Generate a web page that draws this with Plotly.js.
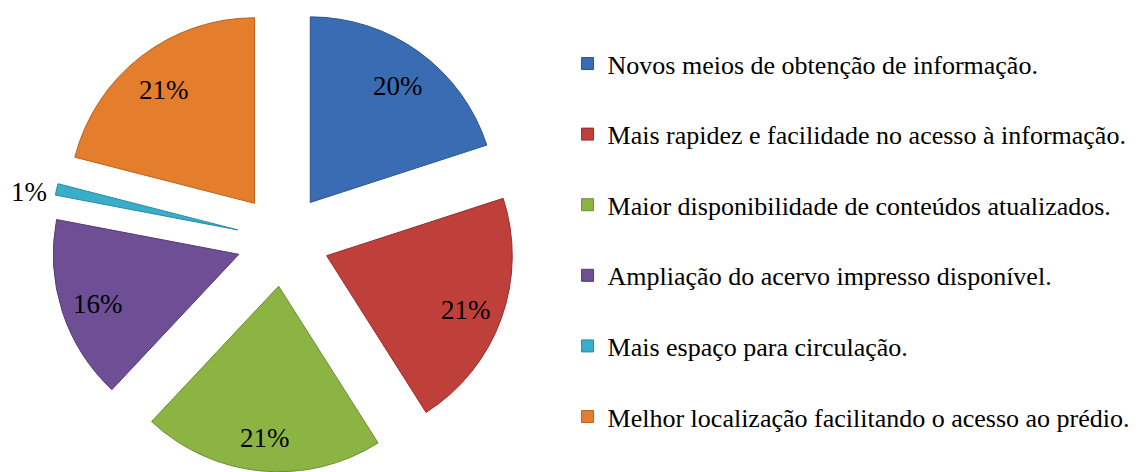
<!DOCTYPE html>
<html>
<head>
<meta charset="utf-8">
<script src="https://cdn.plot.ly/plotly-3.0.1.min.js"></script>
<style>
  html, body { margin: 0; padding: 0; background: #ffffff; }
  #chart svg text { font-family: "Liberation Serif", "Times New Roman", serif !important; }
  #chart .modebar-container { display: none !important; }
</style>
</head>
<body>
<div id="chart" style="width:1142px;height:472px"></div>
<script>
// Data
const categories = [
  "Novos meios de obtenção de informação.",
  "Mais rapidez e facilidade no acesso à informação.",
  "Maior disponibilidade de conteúdos atualizados.",
  "Ampliação do acervo impresso disponível.",
  "Mais espaço para circulação.",
  "Melhor localização facilitando o acesso ao prédio."
];
const values = [20, 21, 21, 16, 1, 21];

// Styles
const sliceColors = ["#3a6cb3", "#bf3f3b", "#8cb443", "#6e4f95", "#38aecb", "#e47d2c"];
const edgeColors  = ["#2c5590", "#952e2b", "#6d8d32", "#553c75", "#2a8aa3", "#b8621f"];
const PULL = 0.25;
const W = 1142, H = 472;
const DOM_X = [0.04466, 0.45096], DOM_Y = [0.0, 0.98305];

// legend labels with an extra blank line to reproduce the wide row spacing
const legendLabels = categories.map(c => c + "<br>\u00a0");

const trace = {
  type: "pie",
  labels: legendLabels,
  values: values,
  customdata: categories,
  sort: false,
  direction: "clockwise",
  rotation: 0,
  pull: values.map(() => PULL),
  textinfo: "none",
  marker: { colors: sliceColors, line: { color: edgeColors, width: 1 } },
  hovertemplate: "%{customdata}<br>%{percent}<extra></extra>",
  domain: { x: DOM_X, y: DOM_Y },
  showlegend: true
};

// percentage labels placed along each slice's middle angle (derived from the values)
const total = values.reduce((a, b) => a + b, 0);
const domWpx = (DOM_X[1] - DOM_X[0]) * W, domHpx = (DOM_Y[1] - DOM_Y[0]) * H;
const rPx = Math.min(domWpx, domHpx) / 2 / (1 + PULL);
const cx = (DOM_X[0] + DOM_X[1]) / 2, cy = (DOM_Y[0] + DOM_Y[1]) / 2;
const annotations = [];
let cum = 0;
values.forEach((v, i) => {
  const share = v / total;
  const mid = (cum + share / 2) * 2 * Math.PI;
  cum += share;
  const sx = Math.sin(mid), sy = Math.cos(mid);
  const small = share < 0.03;
  const dist = PULL * rPx + (small ? rPx + 8 : 0.80 * rPx);
  annotations.push({
    xref: "paper", yref: "paper",
    x: cx + sx * dist / W,
    y: cy + sy * dist / H,
    text: Math.round(share * 100) + "%",
    showarrow: false,
    xanchor: small ? "right" : "center",
    yanchor: "middle",
    yshift: -4,
    font: { family: "Liberation Serif", size: 27, color: "#000000" }
  });
});

const layout = {
  width: W,
  height: H,
  margin: { l: 0, r: 0, t: 0, b: 0, autoexpand: false },
  paper_bgcolor: "#ffffff",
  plot_bgcolor: "#ffffff",
  font: { family: "Liberation Serif", size: 26 },
  showlegend: true,
  annotations: annotations,
  legend: {
    x: 0.497,
    xanchor: "left",
    y: 0.915,
    yanchor: "top",
    valign: "top",
    orientation: "v",
    font: { family: "Liberation Serif", size: 26, color: "#000000" },
    bgcolor: "rgba(0,0,0,0)",
    borderwidth: 0,
    itemclick: false,
    itemdoubleclick: false
  }
};

Plotly.newPlot("chart", [trace], layout).then(gd => {
  if (document.fonts && document.fonts.ready) {
    document.fonts.ready.then(() => Plotly.react(gd, [trace], layout));
  }
});
</script>
</body>
</html>
